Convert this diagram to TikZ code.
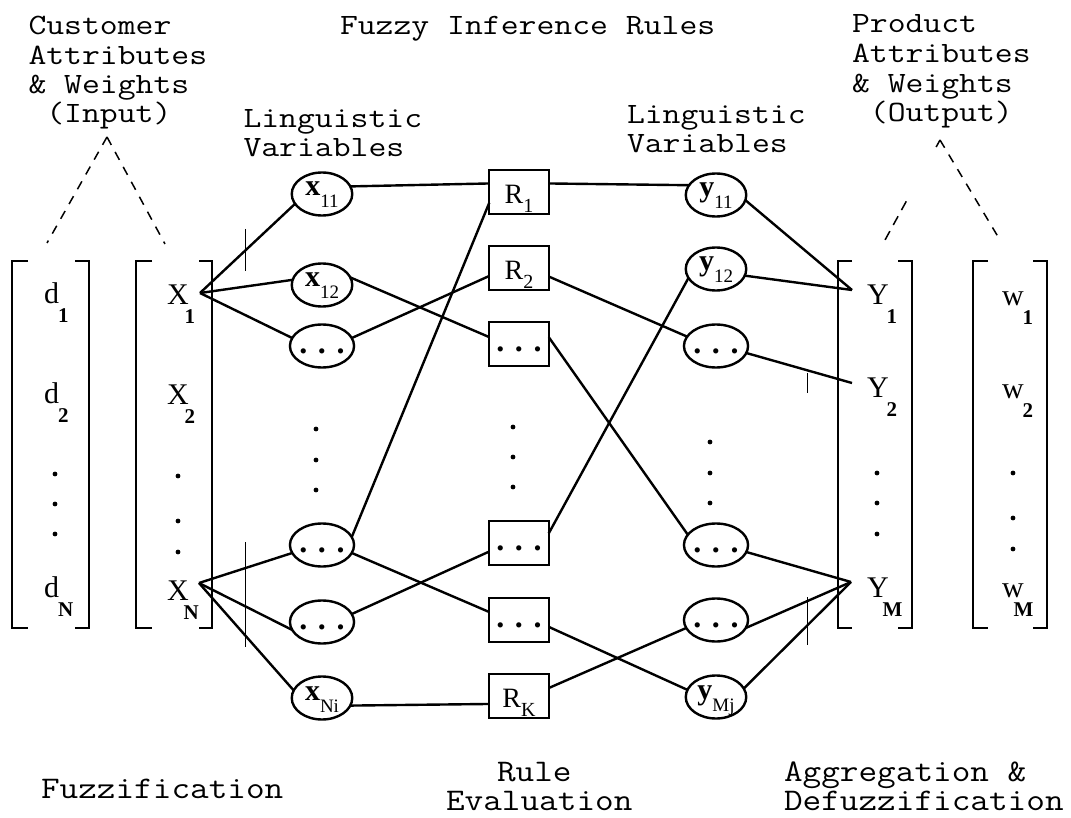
\documentclass[tikz,border=0pt]{standalone}
\usepackage{fontspec}
\setmainfont{Liberation Serif}
\usetikzlibrary{shapes.geometric}

% typewriter headings, squeezed a little vertically
\newcommand\hd[1]{\scalebox{1}[0.85]{#1}}
\newcommand\ph[1]{\scalebox{1}[0.87]{#1}}
% subscripted labels
\newcommand\lvlab[2]{\textbf{#1}\raisebox{-12pt}{\fontsize{19}{19}\selectfont #2}}
\newcommand\rulab[2]{#1\raisebox{-9pt}{\fontsize{20}{20}\selectfont #2}}
\newcommand\mlab[3]{#1\kern#3pt\raisebox{-19pt}{\fontsize{21}{21}\selectfont\bfseries #2}}

\begin{document}
\begin{tikzpicture}[x=1pt,y=-1pt,
  every node/.style={inner sep=0pt,outer sep=0pt},
  heading/.style={font=\ttfamily\addfontfeature{FakeBold=1.2}\fontsize{34.7}{34}\selectfont,anchor=base west},
  phase/.style={font=\ttfamily\addfontfeature{FakeBold=1.2}\fontsize{36.2}{36}\selectfont,anchor=base west},
  ell/.style={ellipse,draw,line width=2.4pt,minimum width=60.5pt,minimum height=43pt,
              font=\fontsize{30}{30}\selectfont},
  rul/.style={rectangle,draw,line width=2.4pt,minimum width=59.5pt,minimum height=44pt,
              font=\fontsize{28}{28}\selectfont,text height=23pt,text depth=0pt},
  evar/.style={text height=14pt,text depth=10pt},
  edots/.style={font=\bfseries\fontsize{32}{32}\selectfont,text height=15pt,text depth=0pt},
  entry/.style={anchor=base west,font=\fontsize{30}{30}\selectfont},
  conn/.style={line width=2.4pt},
  brk/.style={line width=2.7pt,line join=miter},
  tick/.style={line width=0.9pt},
  guide/.style={line width=1.5pt,dash pattern=on 9pt off 8pt},
  dotc/.style={fill,radius=2.4pt}
]
\fill[white] (0,0) rectangle (1071,818);
\useasboundingbox (0,0) rectangle (1071,818);

% headings
\node[heading] (ca1) at (28.5,35) {\hd{Customer}};
\node[heading] (ca2) at (28.5,65) {\hd{Attributes}};
\node[heading] (ca3) at (28.5,94) {\hd{\& Weights}};
\node[heading] (ca4) at (28.5,123) {\hd{\ (Input)}};
\node[heading] (fir) at (340,35) {\hd{Fuzzy Inference Rules}};
\node[heading] (lvl1) at (243.5,128) {\hd{Linguistic}};
\node[heading] (lvl2) at (243.5,157) {\hd{Variables}};
\node[heading] (lvr1) at (627,124) {\hd{Linguistic}};
\node[heading] (lvr2) at (627,153) {\hd{Variables}};
\node[heading] (pa1) at (852,33) {\hd{Product}};
\node[heading] (pa2) at (852,63) {\hd{Attributes}};
\node[heading] (pa3) at (852,93) {\hd{\& Weights}};
\node[heading] (pa4) at (852,122) {\hd{\ (Output)}};

% phase names
\node[phase] (fuz) at (41,798) {\ph{Fuzzification}};
\node[phase] (rev1) at (497,781) {\ph{Rule}};
\node[phase] (rev2) at (446,810) {\ph{Evaluation}};
\node[phase] (agg1) at (784,781) {\ph{Aggregation \&}};
\node[phase] (agg2) at (784,810) {\ph{Defuzzification}};

% dashed guides
\coordinate (apL) at (107,137);
\coordinate (apLa) at (47,243);
\coordinate (apLb) at (165,244);
\coordinate (apR) at (940,140);
\coordinate (apRa) at (885,240);
\coordinate (apRb) at (1000,240);
\draw[guide] (apL) -- (apLa);
\draw[guide] (apL) -- (apLb);
\draw[line width=1.5pt,dash pattern=on 8pt off 62pt on 10pt off 7pt on 10pt off 7pt on 10pt off 50pt] (apR) -- (apRa);
\draw[guide] (apR) -- (apRb);

% brackets
\draw[brk] (28,261) -- (12,261) -- (12,628) -- (28,628);
\draw[brk] (75,261) -- (89,261) -- (89,628) -- (75,628);
\draw[brk] (152,261) -- (136,261) -- (136,628) -- (152,628);
\draw[brk] (199,261) -- (212,261) -- (212,628) -- (199,628);
\draw[brk] (852,261) -- (838,261) -- (838,628) -- (852,628);
\draw[brk] (898,261) -- (912,261) -- (912,628) -- (898,628);
\draw[brk] (988,261) -- (973,261) -- (973,628) -- (988,628);
\draw[brk] (1033,261) -- (1047,261) -- (1047,628) -- (1033,628);

% vector entries
\node[entry] (d1) at (44,304) {\mlab{d}{1}{-1}};
\node[entry] (d2) at (44,403) {\mlab{d}{2}{-1}};
\node[entry] (dN) at (44,597) {\mlab{d}{N}{-1}};
\node[entry] (X1) at (167,305) {\mlab{X}{1}{-4}};
\node[entry] (X2) at (167,404) {\mlab{X}{2}{-4}};
\node[entry] (XN) at (167,600) {\mlab{X}{N}{-5}};
\node[entry] (Y1) at (867,305) {\mlab{Y}{1}{-2}};
\node[entry] (Y2) at (867,397) {\mlab{Y}{2}{-2}};
\node[entry] (YM) at (867,597) {\mlab{Y}{M}{-6}};
\node[entry] (w1) at (1002,306) {\mlab{w}{1}{-1}};
\node[entry] (w2) at (1002,398) {\mlab{w}{2}{-1}};
\node[entry] (wM) at (1002,597) {\mlab{w}{M}{-10}};

\foreach \yy in {474,504,534} \fill[dotc] (55,\yy) circle;
\foreach \yy in {476,521,552} \fill[dotc] (178,\yy) circle;
\foreach \yy in {473,503,534} \fill[dotc] (877,\yy) circle;
\foreach \yy in {473,518,549} \fill[dotc] (1013,\yy) circle;

% fan points
\coordinate (X1pt) at (200,293);
\coordinate (XNpt) at (199,583);
\coordinate (Y1pt) at (852,290);
\coordinate (Y2pt) at (852,383);
\coordinate (YMpt) at (851,582);

% input linguistic variables
\node[ell,evar]  (x11) at (322,194) {\lvlab{x}{11}};
\node[ell,evar]  (x12) at (322,285) {\lvlab{x}{12}};
\node[ell,edots] (ld1) at (322,346) {. . .};
\node[ell,edots] (ld4) at (322,545) {. . .};
\node[ell,edots] (ld5) at (322,622) {. . .};
\node[ell,evar]  (xNi) at (322,698) {\lvlab{x}{Ni}};
\foreach \yy in {429,460,490} \fill[dotc] (316,\yy) circle;

% rules
\node[rul] (R1) at (519,192) {\rulab{R}{1}};
\node[rul] (R2) at (519,268) {\rulab{R}{2}};
\node[rul,edots] (b3) at (519,344) {. . .};
\node[rul,edots] (b4) at (519,543) {. . .};
\node[rul,edots] (b5) at (519,620) {. . .};
\node[rul] (RK) at (519,696) {\rulab{R}{K}};
\foreach \yy in {427,457,487} \fill[dotc] (513,\yy) circle;

% output linguistic variables
\node[ell,evar]  (y11) at (716,195) {\lvlab{y}{11}};
\node[ell,evar]  (y12) at (716,269) {\lvlab{y}{12}};
\node[ell,edots] (rd3) at (716,346) {. . .};
\node[ell,edots] (rd4) at (716,545) {. . .};
\node[ell,edots] (rd5) at (716,620) {. . .};
\node[ell,evar]  (yMj) at (716,697) {\lvlab{y}{Mj}};
\foreach \yy in {442,473,503} \fill[dotc] (710,\yy) circle;

% fuzzification
\draw[conn] (X1pt) -- (x11.200);
\draw[conn] (X1pt) -- (x12.170);
\draw[conn] (X1pt) -- (ld1.165);
\draw[conn] (XNpt) -- (ld4.195);
\draw[conn] (XNpt) -- (ld5.195);
\draw[conn] (XNpt) -- (xNi.165);

% rule antecedents
\draw[conn] (x11.15) -- (R1.164);
\draw[conn] (x12.15) -- (b3.167);
\draw[conn] (ld1.15) -- (R2.195);
\draw[conn] (ld4.15) -- (R1.200);
\draw[conn] (ld4.345) -- (b5.165);
\draw[conn] (ld5.15) -- (b4.196);
\draw[conn] (xNi.345) -- (RK.195);

% rule consequents
\draw[conn] (R1.16) -- (y11.160);
\draw[conn] (R2.344) -- (rd3.162);
\draw[conn] (b3.13) -- (rd4.160);
\draw[conn] (b4.18) -- (y12.198);
\draw[conn] (b5.347) -- (yMj.166);
\draw[conn] (RK.15) -- (rd5.195);

% aggregation
\draw[conn] (y11.350) -- (Y1pt);
\draw[conn] (y12.347) -- (Y1pt);
\draw[conn] (rd3.347) -- (Y2pt);
\draw[conn] (rd4.347) -- (YMpt);
\draw[conn] (rd5.345) -- (YMpt);
\draw[conn] (yMj.17) -- (YMpt);

% thin marks
\draw[tick] (245,229) -- (245,271);
\draw[tick] (245,542) -- (245,647);
\draw[tick] (807,373) -- (807,393);
\draw[tick] (807,597) -- (807,645);
\end{tikzpicture}
\end{document}
